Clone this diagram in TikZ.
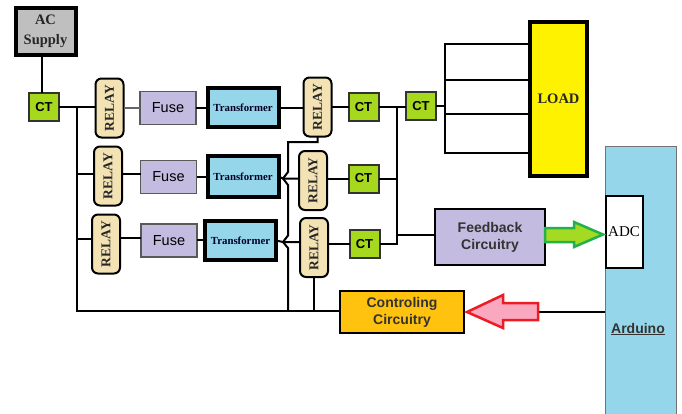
\documentclass[tikz,border=0pt]{standalone}
\usepackage{fontspec}
\setmainfont{Liberation Serif}
\setsansfont{Liberation Sans}
\newcommand{\fsz}[1]{\fontsize{#1}{#1}\selectfont}
\usetikzlibrary{calc}
\definecolor{ctgreen}{HTML}{A6D81E}
\definecolor{relayc}{HTML}{F2E2B4}
\definecolor{purp}{HTML}{C3BBE0}
\definecolor{skyc}{HTML}{96D6EA}
\definecolor{loady}{HTML}{FFF200}
\definecolor{ctrlc}{HTML}{FFC20E}
\definecolor{arrgreen}{HTML}{A4DA22}
\definecolor{arrgreenline}{HTML}{22B14C}
\definecolor{arrpink}{HTML}{F9A8C0}
\definecolor{arrred}{HTML}{ED1C24}
\tikzset{
 x=1pt,y=-1pt,
 wire/.style={draw=black,line width=2pt},
 bx/.style={draw,inner sep=0pt,outer sep=0pt,align=center},
 ctbox/.style={bx,fill=ctgreen,draw=black!80,line width=2pt,minimum width=30pt,minimum height=28pt,font=\sffamily\bfseries\fsz{13}},
 relaybox/.style={bx,fill=relayc,rounded corners=6pt,line width=2pt,minimum width=28pt,minimum height=59pt,font=\bfseries\fsz{13.5},text=black!85},
 fusebox/.style={bx,fill=purp,draw=black!65,line width=1.5pt,minimum width=56pt,minimum height=33pt,font=\sffamily\fsz{14.5}},
 trbox/.style={bx,fill=skyc,line width=4pt,minimum width=71pt,minimum height=39pt,font=\bfseries\fsz{10.8},text=black!85!blue},
 bigarrow/.style={line width=2.5pt,line join=miter},
}
\begin{document}
\begin{tikzpicture}
\useasboundingbox[fill=white] (0,0) rectangle (682,413);
% nodes
\node[bx,fill=black!25,line width=4pt,minimum width=60pt,minimum height=47pt,font=\bfseries\fsz{14.5},text=black!85] (ac) at (45.5,31.5) {AC\\[5pt]Supply};
\node[ctbox] (ct1) at (44,107) {CT};
\node[relaybox] (r1a) at (109.5,108) {\rotatebox{90}{RELAY}};
\node[relaybox] (r2a) at (108,176) {\rotatebox{90}{RELAY}};
\node[relaybox] (r3a) at (106,244) {\rotatebox{90}{RELAY}};
\node[fusebox] (f1) at (168,108) {Fuse};
\node[fusebox] (f2) at (168.5,177) {Fuse};
\node[fusebox] (f3) at (169,240.5) {Fuse};
\node[trbox] (t1) at (243,107.5) {Transformer};
\node[trbox,minimum height=41pt] (t2) at (243,176.5) {Transformer};
\node[trbox] (t3) at (240.5,240.5) {Transformer};
\node[relaybox] (r1b) at (317.5,107) {\rotatebox{90}{RELAY}};
\node[relaybox] (r2b) at (313,180.5) {\rotatebox{90}{RELAY}};
\node[relaybox] (r3b) at (314,247.5) {\rotatebox{90}{RELAY}};
\node[ctbox] (ct1b) at (363.5,107) {CT};
\node[ctbox] (ct2b) at (363.5,178.5) {CT};
\node[ctbox] (ct3b) at (364.5,244) {CT};
\node[ctbox] (cttop) at (421,106) {CT};
\node[bx,fill=loady,line width=4pt,minimum width=57pt,minimum height=154pt,font=\bfseries\fsz{14.5},text=black!85] (load) at (558.5,99) {LOAD};
\node[bx,fill=purp,line width=2pt,minimum width=110pt,minimum height=56pt,font=\sffamily\bfseries\fsz{14},text=black!80] (fb) at (490,237) {Feedback\\[3pt]Circuitry};
\node[bx,fill=ctrlc,line width=2pt,minimum width=124pt,minimum height=42pt,font=\sffamily\bfseries\fsz{14},text=black!80] (ctrl) at (402,312) {Controling\\[3pt]Circuitry};
\node[bx,fill=skyc,draw=black!55,line width=1pt,minimum width=71pt,minimum height=269pt] (ard) at (640.5,280.5) {};
\node[bx,fill=white,line width=2pt,minimum width=37pt,minimum height=72pt,font=\fsz{15}] (adc) at (624,231.5) {ADC};
\node[inner sep=0pt,font=\sffamily\bfseries\fsz{14},text=black!80] (ardt) at (638,329) {\underline{Arduino}};
% junction coordinates
\coordinate (busT) at (76.5,107);
\coordinate (busB) at (76.5,311);
\coordinate (brT) at (288,142);
\coordinate (brB) at (288,311);
\coordinate (tip2) at (283,178.5);
\coordinate (tip3) at (283,242);
\coordinate (j) at (397,107);
\coordinate (jf) at (397,235);
\coordinate (jb) at (445,106);
\coordinate (jt) at (445,44);
\coordinate (jl) at (445,153);
% connectors
\draw[wire] (ac.south -| 42,0) -- (ct1.north -| 42,0);
\draw[wire] (ct1.east) -- (ct1.east -| r1a.west);
\draw[wire,draw=black!60] (r1a.east) -- (r1a.east -| f1.west);
\draw[wire] (f1.east) -- (f1.east -| t1.west);
\draw[wire] (t1.east) -- (t1.east -| r1b.west);
\draw[wire] (r1b.east) -- (r1b.east -| ct1b.west);
\draw[wire] (ct1b.east) -- (ct1b.east -| cttop.west);
\draw[wire] (busT) -- (busB) -- (ctrl.west |- busB);
\draw[wire] (busT |- 0,174) -- (r2a.west |- 0,174);
\draw[wire] (busT |- 0,239) -- (r3a.west |- 0,239);
\draw[wire] (r2a.east |- 0,174) -- (f2.west |- 0,174);
\draw[wire] (f2.east) -- (f2.east -| t2.west);
\draw[wire] (r3a.east |- 0,238) -- (f3.west |- 0,238);
\draw[wire] (f3.east |- 0,240) -- (t3.west |- 0,240);
\draw[wire] (r1b.south) -- (r1b.south |- brT) -- (brT) -- (288,172) -- (tip2) -- (288,185) -- (288,235.5) -- (tip3) -- (288,248) -- (brB);
\draw[wire] (t2.east) -- (tip2) -- (tip2 -| r2b.west);
\draw[wire] (t3.east) -- (tip3) -- (tip3 -| r3b.west);
\draw[wire] (r3b.south) -- (r3b.south |- busB);
\draw[wire] (r2b.east |- ct2b.west) -- (ct2b.west);
\draw[wire] (r3b.east |- ct3b.west) -- (ct3b.west);
\draw[wire] (ct2b.east) -- (ct2b.east -| j);
\draw[wire] (ct3b.east) -- (ct3b.east -| j) -- (j);
\draw[wire] (jf) -- (fb.west |- jf);
\draw[wire] (cttop.east) -- (jb);
\draw[wire] (jt -| load.west) -- (jt) -- (jl) -- (jl -| load.west);
\draw[wire] (jb |- 0,80) -- (load.west |- 0,80);
\draw[wire] (jb |- 0,114) -- (load.west |- 0,114);
\draw[wire] (ard.west |- 0,312) -- (538,312);
% block arrows
\draw[bigarrow,fill=arrgreen,draw=arrgreenline] (fb.east |- 0,228) -- (574,228) -- (574,222) -- (603,234.5) -- (574,247) -- (574,242) -- (fb.east |- 0,242) -- cycle;
\draw[bigarrow,fill=arrpink,draw=arrred] (467,312) -- (503,295) -- (503,303) -- (538,303) -- (538,320) -- (503,320) -- (503,328) -- cycle;
\end{tikzpicture}
\end{document}
